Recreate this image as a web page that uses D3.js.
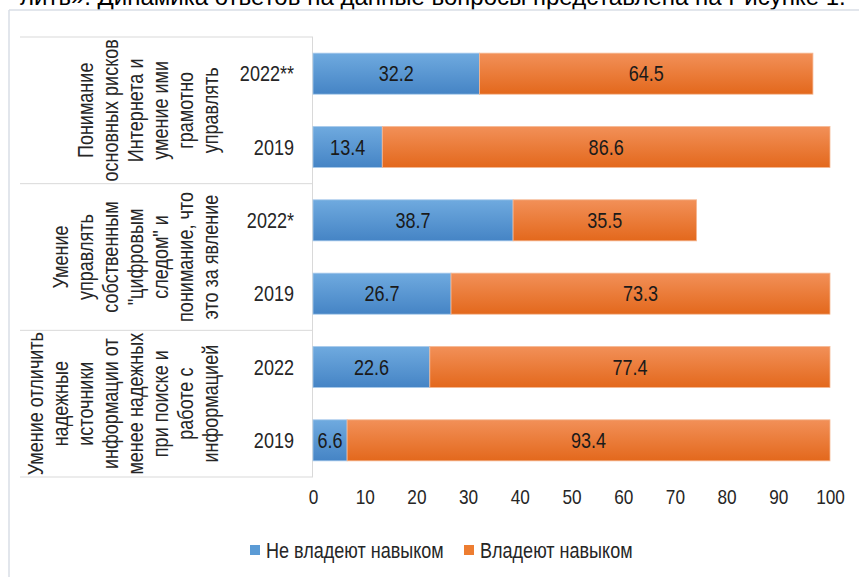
<html>
<head>
  <script src="https://d3js.org/d3.v7.min.js"></script>
  <style>
    body { margin: 0; background: #fff; }
    svg text { font-family: "Liberation Sans", Arial, sans-serif; }
  </style>
</head>
<body>
<div id="chart"></div>
<script>
// data
const groups = [
  ["Понимание", "основных рисков", "Интернета и", "умение ими", "грамотно", "управлять"],
  ["Умение", "управлять", "собственным", "\"цифровым", "следом\" и", "понимание, что", "это за явление"],
  ["Умение отличить", "надежные", "источники", "информации от", "менее надежных", "при поиске и", "работе с", "информацией"]
];
const years = ["2022**", "2019", "2022*", "2019", "2022", "2019"];
const notSkilled = [32.2, 13.4, 38.7, 26.7, 22.6, 6.6];
const skilled = [64.5, 86.6, 35.5, 73.3, 77.4, 93.4];
const ticks = [0, 10, 20, 30, 40, 50, 60, 70, 80, 90, 100];
const seriesNames = ["Не владеют навыком", "Владеют навыком"];

const width = 859, height = 577;
const narrow = 0.82; // imitate Arial Narrow
const svg = d3.create("svg").attr("width", width).attr("height", height);

// gradients like the office chart
const defs = svg.append("defs");
const grads = [["gBlue", "#6faadf", "#4584c5"], ["gOrange", "#f29058", "#e3681c"]];
grads.forEach(g => {
  const lg = defs.append("linearGradient").attr("id", g[0])
    .attr("x1", 0).attr("y1", 0).attr("x2", 0).attr("y2", 1);
  lg.append("stop").attr("offset", "0%").attr("stop-color", g[1]);
  lg.append("stop").attr("offset", "100%").attr("stop-color", g[2]);
});

// text above the chart (cut off in the picture)
svg.append("text")
  .attr("x", 20).attr("y", 5)
  .attr("font-size", 24).attr("fill", "#000")
  .text("лить». Динамика ответов на данные вопросы представлена на Рисунке 1.");

// chart frame
svg.append("line").attr("x1", 9).attr("x2", 9).attr("y1", 10).attr("y2", height).attr("stroke", "#d9dee6").attr("stroke-width", 1.5);
svg.append("line").attr("x1", 9).attr("x2", width).attr("y1", 10).attr("y2", 10).attr("stroke", "#d9dee6").attr("stroke-width", 1.5);

const x = d3.scaleLinear().domain([0, 100]).range([313, 830]);
const y = d3.scaleBand().domain(d3.range(years.length)).range([37, 477])
  .paddingInner(0.44).paddingOuter(0.22);
const groupY = d3.scaleBand().domain(d3.range(groups.length)).range([37, 477]);

// category separators and axis line
const sep = svg.append("g").attr("stroke", "#d9d9d9").attr("stroke-width", 1);
d3.range(groups.length + 1).forEach(i => {
  const yy = 37 + i * groupY.step();
  sep.append("line").attr("x1", 20).attr("x2", x(0)).attr("y1", yy).attr("y2", yy);
});
sep.append("line").attr("x1", x(0) - 0.5).attr("x2", x(0) - 0.5).attr("y1", 37).attr("y2", 477);

// group labels, rotated
groups.forEach((lines, gi) => {
  const cy = groupY(gi) + groupY.bandwidth() / 2;
  const n = lines.length;
  lines.forEach((t, li) => {
    const bx = 218 - (n - 1 - li) * 25;
    svg.append("text")
      .attr("transform", `translate(${bx},${cy}) rotate(-90) scale(${narrow},1)`)
      .attr("text-anchor", "middle")
      .attr("font-size", 22).attr("fill", "#262626")
      .text(t);
  });
});

// year labels
svg.append("g").selectAll("text").data(years).join("text")
  .attr("transform", (d, i) => `translate(294,${y(i) + y.bandwidth() / 2}) scale(${narrow},1)`)
  .attr("dy", "0.35em")
  .attr("text-anchor", "end")
  .attr("font-size", 22).attr("fill", "#262626")
  .text(d => d);

// bars
const rows = years.map((yr, i) => ({ i, a: notSkilled[i], b: skilled[i] }));
const bars = svg.append("g");
bars.selectAll("rect.a").data(rows).join("rect").attr("class", "a")
  .attr("x", x(0)).attr("y", d => y(d.i))
  .attr("width", d => x(d.a) - x(0)).attr("height", y.bandwidth())
  .attr("fill", "url(#gBlue)").attr("stroke", "#a9cbec").attr("stroke-width", 0.8);
bars.selectAll("rect.b").data(rows).join("rect").attr("class", "b")
  .attr("x", d => x(d.a)).attr("y", d => y(d.i))
  .attr("width", d => x(d.a + d.b) - x(d.a)).attr("height", y.bandwidth())
  .attr("fill", "url(#gOrange)").attr("stroke", "#f6b995").attr("stroke-width", 0.8);

// value labels
const lab = svg.append("g").attr("text-anchor", "middle").attr("font-size", 22).attr("fill", "#1a1a1a");
rows.forEach(d => {
  const cy = y(d.i) + y.bandwidth() / 2;
  lab.append("text").attr("transform", `translate(${(x(0) + x(d.a)) / 2},${cy}) scale(${narrow},1)`)
    .attr("dy", "0.35em").text(d.a.toFixed(1));
  lab.append("text").attr("transform", `translate(${(x(d.a) + x(d.a + d.b)) / 2},${cy}) scale(${narrow},1)`)
    .attr("dy", "0.35em").text(d.b.toFixed(1));
});

// x axis labels
const xAxis = svg.append("g").attr("transform", "translate(0,486)")
  .call(d3.axisBottom(x).tickValues(ticks).tickSize(0).tickPadding(3));
xAxis.select(".domain").remove();
xAxis.selectAll("text").attr("font-size", 21).attr("fill", "#262626")
  .attr("transform", `scale(${narrow},1)`)
  .style("font-family", "'Liberation Sans', Arial, sans-serif");

// legend
const legX = [250, 464];
const colors = ["#5b9bd5", "#ed7d31"];
seriesNames.forEach((s, i) => {
  svg.append("rect").attr("x", legX[i]).attr("y", 545).attr("width", 10).attr("height", 10).attr("fill", colors[i]);
  svg.append("text").attr("transform", `translate(${legX[i] + 16},550) scale(${narrow},1)`)
    .attr("dy", "0.35em")
    .attr("font-size", 22).attr("fill", "#262626").text(s);
});

document.getElementById("chart").appendChild(svg.node());
</script>
</body>
</html>
